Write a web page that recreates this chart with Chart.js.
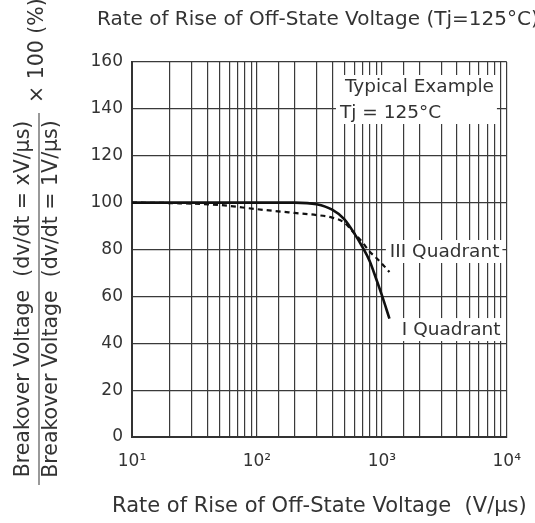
<!DOCTYPE html>
<html>
<head>
<meta charset="utf-8">
<script src="https://cdn.jsdelivr.net/npm/chart.js@4.4.0/dist/chart.umd.min.js"></script>
<style>
  html, body { margin: 0; padding: 0; background: #fff; }
  #wrap { width: 535px; height: 523px; }
</style>
</head>
<body>
<div id="wrap"><canvas id="chartCanvas" width="535" height="523"></canvas></div>
<script>
// dv/dt values (V/us) and breakover voltage ratio (%)
const dvdt    = [10, 20, 50, 100, 200, 300, 400, 500, 600, 700, 800, 900, 1000, 1150];
const quadI   = [100, 100, 100, 100, 100, 99.3, 97, 93, 87, 81, 75, 67.5, 60.5, 50.5];
const quadIII = [100, 99.8, 99, 97.2, 95.6, 94.7, 93.6, 91.5, 87, 83, 79, 76.5, 74, 70.4];

const yTicks = [0, 20, 40, 60, 80, 100, 120, 140, 160];
const xMajor = {10: '10\u00B9', 100: '10\u00B2', 1000: '10\u00B3', 10000: '10\u2074'};

const FONT = 'DejaVu Sans';
const TXT = '#333';
const GRID = '#3a3a3a';

// labels placed in data space: [text, x value, y value, box group]
const notes = [
    ['Typical Example', 506, 147.2, 0],
    ['Tj = 125\u00B0C', 462, 136.1, 0],
    ['III Quadrant', 1159, 76.8, 1],
    ['I Quadrant', 1445, 43.5, 2]
];

const pts = (ys) => dvdt.map((x, i) => ({x: x, y: ys[i]}));

const textPlugin = {
    id: 'texts',
    beforeDatasetsDraw(chart) {
        const {ctx, scales: {x, y}} = chart;
        ctx.save();
        ctx.font = `18.5px "${FONT}"`;
        ctx.textBaseline = 'alphabetic';
        ctx.textAlign = 'left';
        // white boxes behind each group of labels, hiding the grid
        const boxes = {};
        notes.forEach(([t, xv, yv, g]) => {
            const px = x.getPixelForValue(xv), py = y.getPixelForValue(yv);
            const w = ctx.measureText(t).width;
            const b = boxes[g] || (boxes[g] = {l: 1e9, r: -1e9, t: 1e9, b: -1e9});
            b.l = Math.min(b.l, px - 4); b.r = Math.max(b.r, px + w + 3);
            b.t = Math.min(b.t, py - 17); b.b = Math.max(b.b, py + 6);
        });
        ctx.fillStyle = '#fff';
        Object.values(boxes).forEach(b => ctx.fillRect(b.l, b.t, b.r - b.l, b.b - b.t));
        ctx.fillStyle = TXT;
        notes.forEach(([t, xv, yv]) => {
            ctx.fillText(t, x.getPixelForValue(xv), y.getPixelForValue(yv));
        });
        ctx.restore();
    },
    afterDraw(chart) {
        const {ctx} = chart;
        ctx.save();
        ctx.fillStyle = TXT;
        // top caption (cut off at right edge like the scan)
        ctx.font = `20px "${FONT}"`;
        ctx.textAlign = 'left';
        ctx.fillText('Rate of Rise of Off-State Voltage (Tj=125\u00B0C)', 97, 25);
        // x axis title
        ctx.font = `21px "${FONT}"`;
        ctx.fillText('Rate of Rise of Off-State Voltage  (V/\u03BCs)', 112, 512);
        // y axis title as a fraction
        const yc = 299;
        ctx.font = `20.5px "${FONT}"`;
        ctx.textAlign = 'center';
        [[29, 'Breakover Voltage  (dv/dt = xV/\u03BCs)'], [57, 'Breakover Voltage  (dv/dt = 1V/\u03BCs)']].forEach(([bx, t]) => {
            ctx.save();
            ctx.translate(bx, yc);
            ctx.rotate(-Math.PI / 2);
            ctx.fillText(t, 0, 0);
            ctx.restore();
        });
        ctx.strokeStyle = '#555';
        ctx.lineWidth = 1.2;
        ctx.beginPath();
        ctx.moveTo(39, 113);
        ctx.lineTo(39, 485);
        ctx.stroke();
        ctx.save();
        ctx.translate(38, 103);
        ctx.rotate(-Math.PI / 2);
        ctx.textAlign = 'left';
        ctx.textBaseline = 'middle';
        ctx.fillText('\u00D7 100 (%)', 0, 0);
        ctx.restore();
        ctx.restore();
    }
};

const ctx = document.getElementById('chartCanvas').getContext('2d');

const chart = new Chart(ctx, {
    type: 'line',
    data: {
        datasets: [{
            label: 'I Quadrant',
            data: pts(quadI),
            borderColor: '#111',
            borderWidth: 2.6,
            pointRadius: 0,
            cubicInterpolationMode: 'monotone',
            fill: false
        }, {
            label: 'III Quadrant',
            data: pts(quadIII),
            borderColor: '#111',
            borderWidth: 2.2,
            borderDash: [5, 4],
            pointRadius: 0,
            cubicInterpolationMode: 'monotone',
            fill: false
        }]
    },
    options: {
        responsive: false,
        animation: false,
        layout: {padding: {top: 62, right: 28, left: 0, bottom: 0}},
        plugins: {
            legend: {display: false},
            tooltip: {enabled: false}
        },
        scales: {
            x: {
                type: 'logarithmic',
                min: 10,
                max: 10000,
                afterFit: (s) => { s.height = 86; },
                grid: {color: GRID, lineWidth: 1.2, drawTicks: false},
                border: {color: '#333', width: 2},
                ticks: {
                    autoSkip: false,
                    maxRotation: 0,
                    padding: 14,
                    color: TXT,
                    font: {family: FONT, size: 17},
                    callback: (v) => xMajor[v] || ''
                }
            },
            y: {
                min: 0,
                max: 160,
                afterFit: (s) => { s.width = 132; },
                afterBuildTicks: (s) => { s.ticks = yTicks.map(v => ({value: v})); },
                grid: {color: GRID, lineWidth: 1.2, drawTicks: false},
                border: {color: '#333', width: 2},
                ticks: {
                    padding: 9,
                    color: TXT,
                    font: {family: FONT, size: 17}
                }
            }
        }
    },
    plugins: [textPlugin]
});
</script>
</body>
</html>
